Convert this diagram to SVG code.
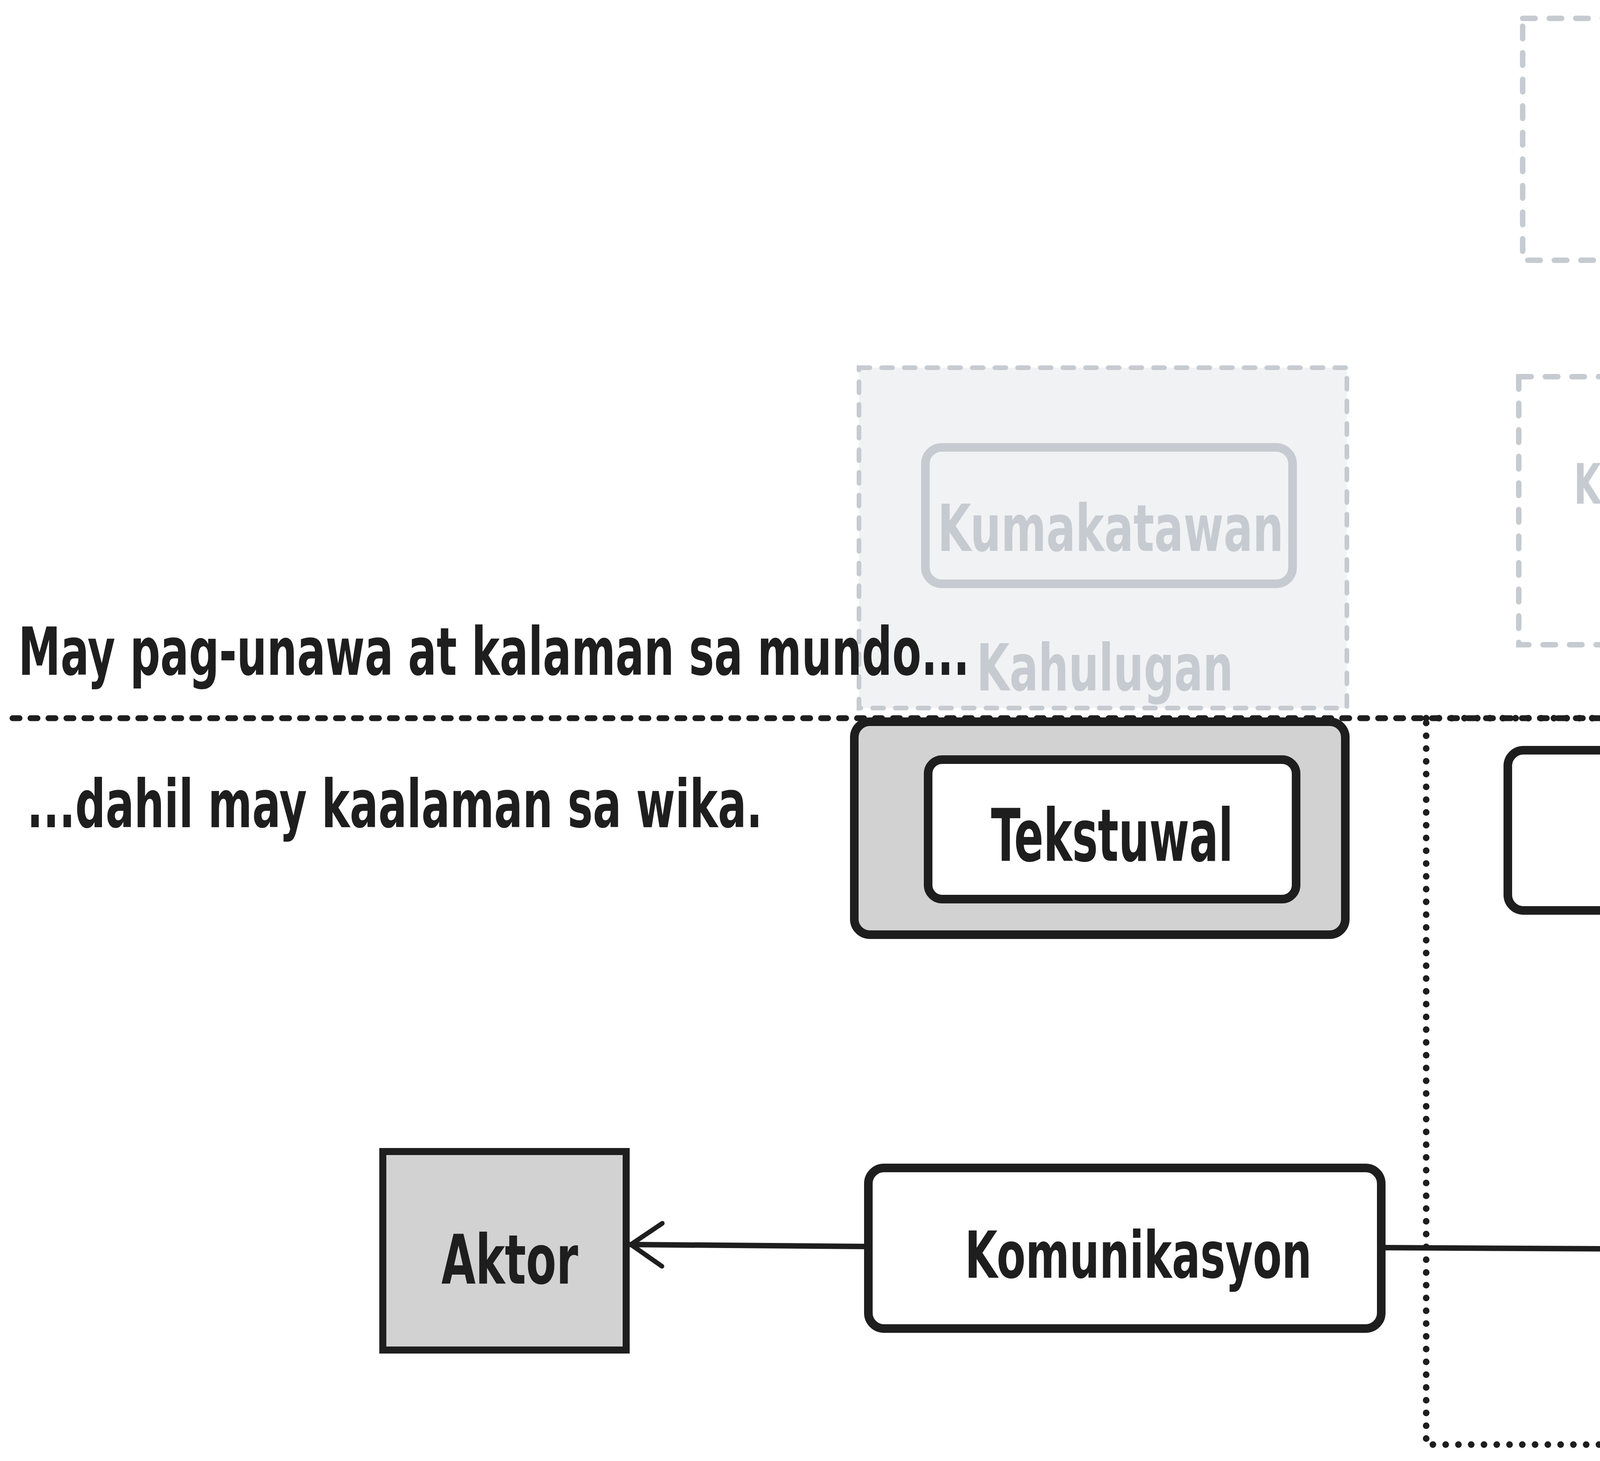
<svg xmlns="http://www.w3.org/2000/svg" width="6208" height="3739" viewBox="0 0 6208 3739">
<style>
.t{font-family:"Liberation Sans Narrow","DejaVu Sans Condensed","Liberation Sans",sans-serif;font-weight:700;fill:#1e1e1e}
.g{fill:#c6cbd1}
.ghost{fill:none;stroke:#c6cbd1;stroke-width:14;stroke-linecap:round;stroke-dasharray:32 36}
.box{fill:#ffffff;stroke:#1e1e1e;stroke-width:22}
.grey{fill:#d2d2d2;stroke:#1e1e1e;stroke-width:18}
.conn{fill:none;stroke:#1e1e1e;stroke-width:14;stroke-linecap:round}
.gconn{fill:none;stroke:#c6cbd1;stroke-width:12;stroke-linecap:round}
</style>
<defs>
<marker id="ah" markerUnits="userSpaceOnUse" viewBox="-100 -70 110 140" refX="0" refY="0" markerWidth="110" markerHeight="140" orient="auto" overflow="visible">
<path d="M-80,-55 L0,0 L-80,55" fill="none" stroke="#1e1e1e" stroke-width="12" stroke-linecap="round" stroke-linejoin="round"/>
</marker>
<marker id="gah" markerUnits="userSpaceOnUse" viewBox="-90 -50 100 100" refX="0" refY="0" markerWidth="100" markerHeight="100" orient="auto" overflow="visible">
<path d="M-72,-40 L0,0 L-72,40" fill="none" stroke="#c6cbd1" stroke-width="12" stroke-linecap="round" stroke-linejoin="round"/>
</marker>
</defs>
<rect width="6208" height="3739" fill="#ffffff"/>

<g id="separator">
<line x1="32" y1="1838" x2="6176" y2="1838" stroke="#1e1e1e" stroke-width="15" stroke-linecap="round" stroke-dasharray="18 28"/>
</g>

<g id="llm-frame">
<rect x="3651" y="1838" width="1924" height="1859" fill="none" stroke="#1e1e1e" stroke-width="17" stroke-linecap="round" stroke-dasharray="0 32.7"/>
</g>

<g id="kaalaman-mundo">
<rect class="ghost" x="3898" y="47" width="1481" height="619"/>
<text class="t g" x="4105" y="446" font-size="150" textLength="1097" lengthAdjust="spacingAndGlyphs">Kaalaman sa mundo</text>
</g>

<g id="konteksto">
<rect class="ghost" x="3888" y="964" width="1506" height="686"/>
<text class="t g" x="4029" y="1289" font-size="142" textLength="1137" lengthAdjust="spacingAndGlyphs">Konteksto, karanasan,</text>
<text class="t g" x="4243" y="1446" font-size="142" textLength="740" lengthAdjust="spacingAndGlyphs">at kasaysayan</text>
</g>

<g id="kahulugan-group">
<rect x="2199" y="941" width="1249" height="871" fill="#f1f2f4" stroke="#c6cbd1" stroke-width="12" stroke-linecap="round" stroke-dasharray="28 30"/>
<text class="t g" x="2500" y="1767" font-size="165" textLength="657" lengthAdjust="spacingAndGlyphs">Kahulugan</text>
</g>

<g id="kumakatawan">
<rect x="2369" y="1145" width="940" height="349" rx="42" fill="none" stroke="#c6cbd1" stroke-width="22"/>
<text class="t g" x="2400" y="1410" font-size="165" textLength="886" lengthAdjust="spacingAndGlyphs">Kumakatawan</text>
</g>

<g id="label-top">
<text class="t" x="47" y="1727" font-size="170" textLength="2435" lengthAdjust="spacingAndGlyphs">May pag-unawa at kalaman sa mundo...</text>
</g>
<g id="label-bottom">
<text class="t" x="69" y="2117" font-size="170" textLength="1883" lengthAdjust="spacingAndGlyphs">...dahil may kaalaman sa wika.</text>
</g>

<g id="tekstuwal-group">
<rect x="2187" y="1847" width="1257" height="545" rx="40" fill="#d2d2d2" stroke="#1e1e1e" stroke-width="22"/>
</g>

<g id="tekstuwal">
<rect class="box" x="2376" y="1944" width="942" height="357" rx="36"/>
<text class="t" x="2537" y="2203" font-size="185" textLength="620" lengthAdjust="spacingAndGlyphs">Tekstuwal</text>
</g>

<g id="kaalaman-wika">
<rect class="box" x="3860" y="1920" width="1532" height="410" rx="40"/>
<text class="t" x="4149" y="2200" font-size="137" textLength="920" lengthAdjust="spacingAndGlyphs">Kaalaman sa wika</text>
</g>

<g id="aktor">
<rect class="grey" x="980" y="2947" width="623" height="508"/>
<text class="t" x="1130" y="3285" font-size="175" textLength="350" lengthAdjust="spacingAndGlyphs">Aktor</text>
</g>

<g id="komunikasyon">
<rect class="box" x="2223" y="2989" width="1313" height="411" rx="40"/>
<text class="t" x="2470" y="3270" font-size="165" textLength="888" lengthAdjust="spacingAndGlyphs">Komunikasyon</text>
</g>

<g id="llms">
<rect class="grey" x="4296" y="2936" width="611" height="506"/>
<text class="t" x="4457" y="3273" font-size="145" textLength="263" lengthAdjust="spacingAndGlyphs">LLMs</text>
</g>

<g id="connectors">
<line class="gconn" x1="4605" y1="701" x2="4606" y2="921" marker-end="url(#gah)"/>
<line class="gconn" x1="4612" y1="1680" x2="4613" y2="1903" marker-end="url(#gah)"/>
<line class="conn" x1="4601" y1="2341" x2="4602" y2="2902" marker-end="url(#ah)"/>
<line class="conn" x1="2212" y1="3190" x2="1615" y2="3185" marker-end="url(#ah)"/>
<line class="conn" x1="3547" y1="3193" x2="4284" y2="3197" marker-end="url(#ah)"/>
</g>
</svg>
